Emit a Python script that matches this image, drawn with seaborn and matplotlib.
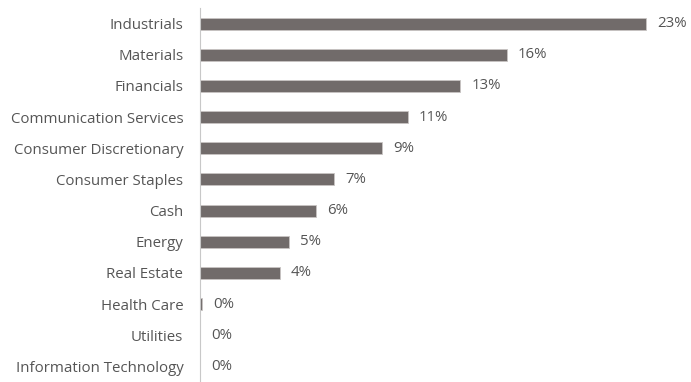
import matplotlib
matplotlib.use("Agg")
import matplotlib.pyplot as plt
import seaborn as sns
import pandas as pd

categories = ["Industrials", "Materials", "Financials", "Communication Services",
              "Consumer Discretionary", "Consumer Staples", "Cash", "Energy",
              "Real Estate", "Health Care", "Utilities", "Information Technology"]
values = [23.0, 15.8, 13.4, 10.7, 9.4, 6.9, 6.0, 4.6, 4.1, 0.1, 0.0, 0.0]
labels = ["23%", "16%", "13%", "11%", "9%", "7%", "6%", "5%", "4%", "0%", "0%", "0%"]

df = pd.DataFrame({"sector": categories, "weight": values})

sns.set_theme(style="white")
plt.rcParams["font.family"] = ["Open Sans", "DejaVu Sans"]

fig = plt.figure(figsize=(6.91, 3.82), dpi=100)
ax = fig.add_axes([200 / 691, 0.0, 491 / 691, 374 / 382])

sns.barplot(data=df, x="weight", y="sector", orient="h", color="#716b6a",
            saturation=1, width=0.38, edgecolor="#c8c4c3", linewidth=0.6, ax=ax)

ax.set_xlim(0, 25.3)
ax.set_ylim(11.5, -0.5)
ax.set_xlabel("")
ax.set_ylabel("")
ax.set_xticks([])
for s in ["top", "right", "bottom"]:
    ax.spines[s].set_visible(False)
ax.spines["left"].set_color("#c8c8c8")
ax.spines["left"].set_linewidth(0.8)
ax.tick_params(axis="y", length=0, pad=12, labelsize=10.8, labelcolor="#555555")

for i, (v, lab) in enumerate(zip(values, labels)):
    ax.annotate(lab, xy=(v, i), xytext=(8, 0), textcoords="offset points",
                ha="left", va="center", fontsize=10.8, color="#555555",
                annotation_clip=False)

fig.savefig("out.png", dpi=100)
